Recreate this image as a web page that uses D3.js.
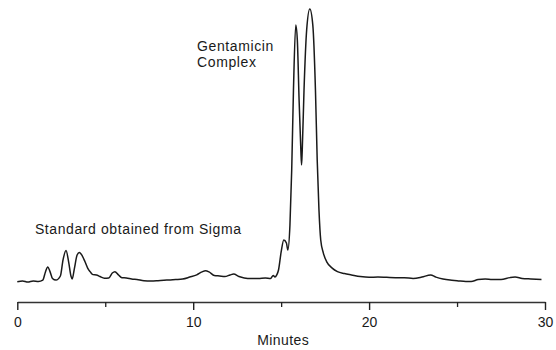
<!DOCTYPE html>
<html>
<head>
<meta charset="utf-8">
<script src="https://cdn.jsdelivr.net/npm/d3@7"></script>
<style>
  html, body { margin: 0; padding: 0; background: #fff; }
  svg { display: block; }
  text { font-family: "Liberation Sans", Arial, Helvetica, sans-serif; fill: #1a1a1a; }
</style>
</head>
<body>
<svg id="chart" width="556" height="350"></svg>
<script>
// Retention time (minutes)
const minutes = [
  0.0, 0.3, 0.6, 0.9, 1.2, 1.45, 1.6, 1.73, 1.85, 2.0, 2.2, 2.45, 2.6, 2.77, 2.92, 3.05, 3.12,
  3.25, 3.4, 3.53, 3.7, 3.85, 4.0, 4.15, 4.3, 4.5, 4.7, 4.95, 5.2, 5.4, 5.55, 5.75, 5.95,
  6.2, 6.5, 6.8, 7.2, 7.6, 8.0, 8.5, 9.0, 9.4, 9.8, 10.2, 10.5, 10.7, 10.9, 11.2, 11.5,
  11.8, 12.1, 12.3, 12.6, 12.9, 13.3, 13.7, 14.1, 14.4, 14.55, 14.65, 14.75, 14.85, 15.0,
  15.15, 15.3, 15.38, 15.5, 15.6, 15.7, 15.83, 15.92, 16.02, 16.12, 16.16, 16.2, 16.3,
  16.45, 16.63, 16.8, 16.95, 17.05, 17.15, 17.25, 17.4, 17.6, 17.9, 18.2, 18.6, 19.0,
  19.5, 20.0, 20.5, 21.0, 21.5, 22.0, 22.5, 23.0, 23.5, 23.8, 24.2, 24.6, 25.0, 25.5,
  25.8, 26.2, 26.6, 27.0, 27.5, 28.0, 28.3, 28.7, 29.2, 29.8
];
// Detector response (relative units)
const response = [
  0.1, 0.4, 0.0, 0.4, 0.2, 0.7, 3.7, 5.5, 4.0, 1.3, 0.7, 2.2, 8.1, 11.5, 7.3, 2.2, 1.1,
  5.1, 9.9, 10.8, 9.5, 7.4, 5.1, 3.7, 2.7, 2.6, 2.0, 1.4, 1.5, 3.3, 3.8, 2.6, 1.6,
  1.5, 1.1, 0.9, 0.5, 0.4, 0.5, 0.7, 0.9, 1.1, 1.8, 2.6, 3.7, 4.1, 3.7, 2.4, 2.2,
  2.0, 2.6, 2.9, 2.0, 1.5, 1.3, 1.3, 1.5, 1.3, 2.4, 1.8, 2.6, 4.4, 11.0,
  15.4, 14.3, 11.7, 20.9, 41.0, 70.3, 94.1, 88.6, 66.7, 48.4, 42.9, 48.4, 70.3,
  92.3, 100.0, 94.1, 70.3, 44.7, 26.4, 15.4, 10.6, 7.3, 5.1, 3.8, 3.1, 2.6,
  2.0, 1.7, 1.8, 1.7, 1.6, 1.6, 1.3, 1.8, 2.6, 1.8, 1.1, 0.7, 0.5, 0.2,
  0.2, 0.9, 1.1, 0.9, 0.9, 1.6, 1.8, 1.3, 1.1, 0.9
];
const majorTicks = [0, 10, 20, 30];
const minorTicks = [5, 15, 25];
const xTitle = "Minutes";
const annotations = [
  { lines: ["Gentamicin", "Complex"], t: 10.22, v: 84.5 },
  { lines: ["Standard obtained from Sigma"], t: 1.0, v: 17.5 }
];

const svg = d3.select("#chart");
const x = d3.scaleLinear().domain([0, 30]).range([17.3, 545]);
const y = d3.scaleLinear().domain([0, 100]).range([282, 9]);
const axisY = 302;

const data = minutes.map((t, i) => ({ t, v: response[i] }));

// axis: major ticks with labels
const gMajor = svg.append("g")
  .attr("transform", `translate(0,${axisY})`)
  .call(d3.axisBottom(x).tickValues(majorTicks).tickSize(8).tickSizeOuter(0).tickPadding(7)
        .tickFormat(d3.format("d")));
gMajor.select(".domain").attr("stroke", "#333").attr("stroke-width", 1.4);
gMajor.selectAll(".tick line").attr("stroke", "#222").attr("stroke-width", 1.4);
gMajor.selectAll(".tick text")
  .style("font-family", '"Liberation Sans", Arial, sans-serif')
  .style("font-size", "14px").attr("fill", "#1a1a1a");

// minor ticks
const gMinor = svg.append("g")
  .attr("transform", `translate(0,${axisY})`)
  .call(d3.axisBottom(x).tickValues(minorTicks).tickSize(5).tickFormat(""));
gMinor.select(".domain").remove();
gMinor.selectAll(".tick line").attr("stroke", "#222").attr("stroke-width", 1.3);

svg.append("text")
  .attr("x", (x(0) + x(30)) / 2 + 2)
  .attr("y", 345)
  .attr("text-anchor", "middle")
  .style("font-size", "14px")
  .style("letter-spacing", "0.4px")
  .text(xTitle);

// trace
const line = d3.line().x(d => x(d.t)).y(d => y(d.v)).curve(d3.curveMonotoneX);
svg.append("path")
  .datum(data)
  .attr("d", line)
  .attr("fill", "none")
  .attr("stroke", "#1a1a1a")
  .attr("stroke-width", 1.5)
  .attr("stroke-linejoin", "round");

// annotations
annotations.forEach(a => {
  const txt = svg.append("text")
    .attr("x", x(a.t))
    .attr("y", y(a.v))
    .style("font-size", "14px")
    .style("letter-spacing", "0.6px");
  a.lines.forEach((l, i) => {
    txt.append("tspan").attr("x", x(a.t)).attr("dy", i === 0 ? 0 : 15.5).text(l);
  });
});
</script>
</body>
</html>
